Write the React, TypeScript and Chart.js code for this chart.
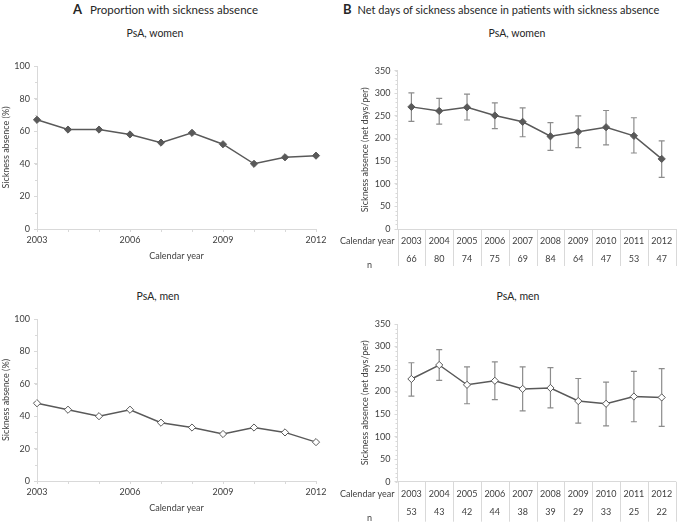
import React, { useEffect, useRef } from 'react';
import { Chart, registerables } from 'chart.js';
Chart.register(...registerables);

// ---------- data ----------
const years = ['2003', '2004', '2005', '2006', '2007', '2008', '2009', '2010', '2011', '2012'];
const propWomen = [67, 61, 61, 58, 53, 59, 52, 40, 44, 45];
const propMen = [48, 44, 40, 44, 36, 33, 29, 33, 30, 24];
const daysWomen = [270, 261, 269, 251, 237, 205, 215, 225, 206, 155];
const daysWomenLow = [238, 232, 241, 222, 204, 174, 180, 186, 168, 114];
const daysWomenHigh = [301, 289, 298, 279, 268, 235, 250, 262, 246, 195];
const daysMen = [228, 259, 215, 224, 206, 208, 179, 173, 189, 187];
const daysMenLow = [190, 225, 173, 182, 157, 164, 130, 124, 133, 123];
const daysMenHigh = [264, 293, 255, 266, 255, 253, 229, 221, 245, 251];
const nWomen = [66, 80, 74, 75, 69, 84, 64, 47, 53, 47];
const nMen = [53, 43, 42, 44, 38, 39, 29, 33, 25, 22];
const propTicks = [0, 20, 40, 60, 80, 100];
const daysTicks = [0, 50, 100, 150, 200, 250, 300, 350];

// ---------- style ----------
const FONT = 'Lato, "Open Sans", sans-serif';
const LINE = '#595959';
const AXIS = '#d9d9d9';
const TEXT = '#404040';
const ERR = '#8c8c8c';

const minorTicksPlugin = (step: number, max: number) => ({
  id: 'minorTicks',
  afterDraw(chart: any) {
    const { ctx } = chart;
    const y = chart.scales.y;
    ctx.save();
    ctx.strokeStyle = AXIS;
    ctx.lineWidth = 1;
    for (let v = 0; v <= max; v += step) {
      const py = Math.round(y.getPixelForValue(v)) + 0.5;
      ctx.beginPath();
      ctx.moveTo(y.right - 2, py);
      ctx.lineTo(y.right, py);
      ctx.stroke();
    }
    ctx.restore();
  },
});

const errorBarPlugin = (low: number[], high: number[]) => ({
  id: 'errorBars',
  beforeDatasetsDraw(chart: any) {
    const { ctx } = chart;
    const x = chart.scales.x;
    const y = chart.scales.y;
    ctx.save();
    ctx.strokeStyle = ERR;
    ctx.lineWidth = 1.2;
    low.forEach((lo, i) => {
      const px = x.getPixelForValue(i);
      const y1 = y.getPixelForValue(lo);
      const y2 = y.getPixelForValue(high[i]);
      ctx.beginPath();
      ctx.moveTo(px, y1);
      ctx.lineTo(px, y2);
      ctx.moveTo(px - 3, y1);
      ctx.lineTo(px + 3, y1);
      ctx.moveTo(px - 3, y2);
      ctx.lineTo(px + 3, y2);
      ctx.stroke();
    });
    ctx.restore();
  },
});

const tablePlugin = (n: number[], lineLen: number) => ({
  id: 'nTable',
  afterDraw(chart: any) {
    const { ctx, chartArea } = chart;
    const x = chart.scales.x;
    const N = n.length;
    const w = (chartArea.right - chartArea.left) / N;
    ctx.save();
    ctx.strokeStyle = AXIS;
    ctx.lineWidth = 1;
    for (let i = 0; i <= N; i++) {
      const px = Math.round(chartArea.left + i * w) + 0.5;
      ctx.beginPath();
      ctx.moveTo(px, chartArea.bottom);
      ctx.lineTo(px, chartArea.bottom + lineLen);
      ctx.stroke();
    }
    ctx.fillStyle = TEXT;
    ctx.font = `9px ${FONT}`;
    ctx.textBaseline = 'middle';
    ctx.textAlign = 'right';
    ctx.fillText('Calendar year', chartArea.left - 3, chartArea.bottom + 12);
    ctx.textAlign = 'center';
    ctx.fillText('n', chartArea.left - 28, chartArea.bottom + 36);
    n.forEach((v, i) => {
      ctx.fillText(String(v), x.getPixelForValue(i), chartArea.bottom + 30);
    });
    ctx.restore();
  },
});

type PanelProps = {
  left: number;
  top: number;
  width: number;
  height: number;
  config: any;
};

function Panel({ left, top, width, height, config }: PanelProps) {
  const ref = useRef<HTMLCanvasElement>(null);
  useEffect(() => {
    if (!ref.current) return;
    const chart = new Chart(ref.current, config);
    return () => chart.destroy();
  }, []);
  return (
    <canvas
      ref={ref}
      width={width}
      height={height}
      style={{ position: 'absolute', left, top, width, height }}
    />
  );
}

function propConfig(values: number[], filled: boolean, padTop: number) {
  return {
    type: 'line',
    data: {
      labels: years,
      datasets: [
        {
          data: values,
          borderColor: LINE,
          borderWidth: 1.5,
          backgroundColor: filled ? LINE : '#ffffff',
          pointBackgroundColor: filled ? LINE : '#ffffff',
          pointBorderColor: LINE,
          pointBorderWidth: 1,
          pointStyle: 'rectRot',
          pointRadius: 3.6,
          tension: 0,
        },
      ],
    },
    options: {
      responsive: false,
      animation: false,
      layout: { padding: { left: 0, top: padTop, right: 24, bottom: 0 } },
      plugins: { legend: { display: false }, tooltip: { enabled: false }, title: { display: false } },
      scales: {
        x: {
          type: 'category',
          offset: false,
          afterFit: (s: any) => { s.height = 36; },
          grid: { display: true, drawOnChartArea: false, drawTicks: true, tickLength: 3, color: AXIS },
          border: { display: true, color: AXIS },
          ticks: {
            autoSkip: false,
            maxRotation: 0,
            padding: 3,
            color: TEXT,
            font: { family: FONT, size: 9 },
            callback: (_v: any, i: number) => (i % 3 === 0 ? years[i] : ''),
          },
          title: {
            display: true,
            text: 'Calendar year',
            color: TEXT,
            font: { family: FONT, size: 9 },
            padding: { top: 0, bottom: 4 },
          },
        },
        y: {
          min: 0,
          max: 100,
          afterFit: (s: any) => { s.width = 37; },
          afterBuildTicks: (s: any) => { s.ticks = propTicks.map((v) => ({ value: v })); },
          grid: { display: true, drawOnChartArea: false, drawTicks: true, tickLength: 3, color: AXIS },
          border: { display: true, color: AXIS },
          ticks: { padding: 4, color: TEXT, font: { family: FONT, size: 9 } },
          title: {
            display: true,
            text: 'Sickness absence (%)',
            color: TEXT,
            font: { family: FONT, size: 9 },
            padding: { top: 1, bottom: 0 },
          },
        },
      },
    },
    plugins: [minorTicksPlugin(10, 100)],
  };
}

function daysConfig(
  values: number[],
  low: number[],
  high: number[],
  n: number[],
  filled: boolean,
  padTop: number,
  xHeight: number,
  lineLen: number
) {
  return {
    type: 'line',
    data: {
      labels: years,
      datasets: [
        {
          data: values,
          borderColor: LINE,
          borderWidth: 1.5,
          backgroundColor: filled ? LINE : '#ffffff',
          pointBackgroundColor: filled ? LINE : '#ffffff',
          pointBorderColor: LINE,
          pointBorderWidth: 1,
          pointStyle: 'rectRot',
          pointRadius: 3.6,
          tension: 0,
        },
      ],
    },
    options: {
      responsive: false,
      animation: false,
      layout: { padding: { left: 19, top: padTop, right: 9.4, bottom: 0 } },
      plugins: { legend: { display: false }, tooltip: { enabled: false }, title: { display: false } },
      scales: {
        x: {
          type: 'category',
          offset: true,
          afterFit: (s: any) => { s.height = xHeight; },
          grid: { display: false, drawTicks: false },
          border: { display: true, color: AXIS },
          ticks: {
            autoSkip: false,
            maxRotation: 0,
            padding: 7,
            color: TEXT,
            font: { family: FONT, size: 9 },
          },
        },
        y: {
          min: 0,
          max: 350,
          afterFit: (s: any) => { s.width = 38.5; },
          afterBuildTicks: (s: any) => { s.ticks = daysTicks.map((v) => ({ value: v })); },
          grid: { display: true, drawOnChartArea: false, drawTicks: true, tickLength: 3, color: AXIS },
          border: { display: true, color: AXIS },
          ticks: { padding: 4, color: TEXT, font: { family: FONT, size: 9 } },
          title: {
            display: true,
            text: 'Sickness absence (net days/per)',
            color: TEXT,
            font: { family: FONT, size: 9 },
            padding: { top: 1, bottom: 0 },
          },
        },
      },
    },
    plugins: [errorBarPlugin(low, high), tablePlugin(n, lineLen), minorTicksPlugin(10, 350)],
  };
}

const txt = (x: number, y: number, size: number, extra: any = {}) => ({
  position: 'absolute' as const,
  left: x,
  top: y,
  transform: 'translate(-50%, -50%)',
  whiteSpace: 'nowrap' as const,
  fontFamily: FONT,
  fontSize: size,
  color: '#262626',
  lineHeight: 1,
  ...extra,
});

export default function App() {
  return (
    <div style={{ position: 'absolute', left: 0, top: 0, width: 685, height: 522, background: '#fff', overflow: 'hidden' }}>
      <div style={{ position: 'absolute', left: 73, top: 2, whiteSpace: 'nowrap', fontFamily: FONT, fontSize: 11.5, color: '#262626', lineHeight: '14px' }}>
        <span style={{ fontWeight: 700, fontSize: 13, marginRight: 8 }}>A</span>Proportion with sickness absence
      </div>
      <div style={{ position: 'absolute', left: 343, top: 2, whiteSpace: 'nowrap', fontFamily: FONT, fontSize: 11, color: '#262626', lineHeight: '14px' }}>
        <span style={{ fontWeight: 700, fontSize: 13, marginRight: 6 }}>B</span>Net days of sickness absence in patients with sickness absence
      </div>
      <div style={txt(155, 33, 10.5)}>PsA, women</div>
      <div style={txt(517, 33, 10.5)}>PsA, women</div>
      <div style={txt(158, 296, 10.5)}>PsA, men</div>
      <div style={txt(518, 296, 10.5)}>PsA, men</div>

      <Panel left={0} top={40} width={340} height={225} config={propConfig(propWomen, true, 26)} />
      <Panel left={0} top={292} width={340} height={225} config={propConfig(propMen, false, 27)} />
      <Panel
        left={340}
        top={40}
        width={345}
        height={232}
        config={daysConfig(daysWomen, daysWomenLow, daysWomenHigh, nWomen, true, 30.7, 43, 37)}
      />
      <Panel
        left={340}
        top={292}
        width={345}
        height={230}
        config={daysConfig(daysMen, daysMenLow, daysMenHigh, nMen, false, 32, 40.3, 40)}
      />
    </div>
  );
}
